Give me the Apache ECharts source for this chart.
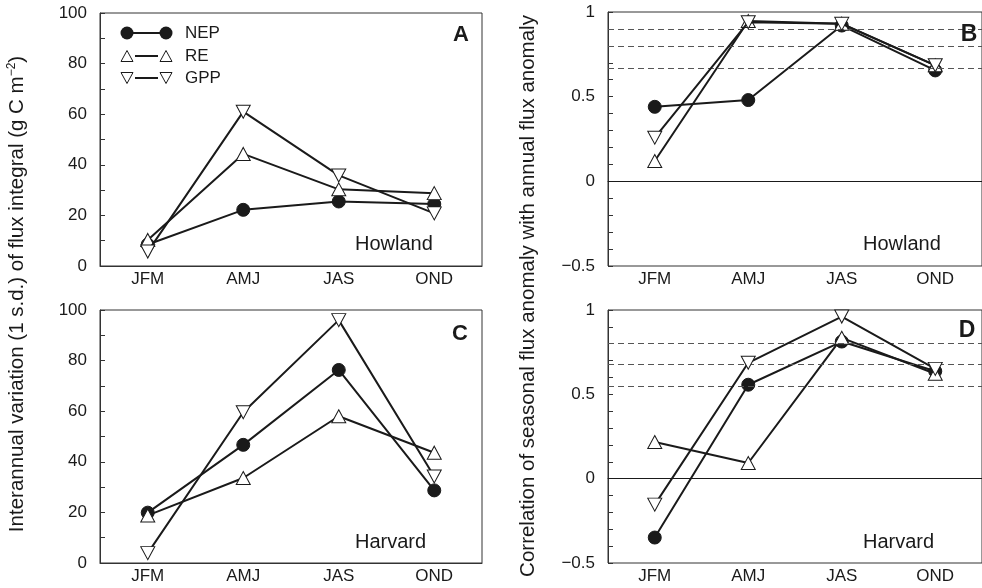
<!DOCTYPE html>
<html>
<head>
<meta charset="utf-8">
<script src="https://cdn.jsdelivr.net/npm/echarts@6/dist/echarts.min.js"></script>
<style>html,body{margin:0;padding:0;background:#fff;}#c{width:982px;height:588px;}</style>
</head>
<body>
<div id="c"></div>
<script>
const categories = ['JFM', 'AMJ', 'JAS', 'OND'];
const howlandSD_NEP = [8.5, 22.2, 25.5, 24.5];
const howlandSD_RE = [10.3, 44.3, 30.3, 28.8];
const howlandSD_GPP = [5.7, 61.0, 35.8, 20.8];
const howlandCorr_NEP = [0.44, 0.48, 0.92, 0.655];
const howlandCorr_RE = [0.12, 0.947, 0.931, 0.685];
const howlandCorr_GPP = [0.258, 0.94, 0.93, 0.685];
const harvardSD_NEP = [19.9, 46.7, 76.3, 28.7];
const harvardSD_RE = [18.8, 33.6, 58.0, 43.6];
const harvardSD_GPP = [3.9, 59.6, 96.0, 34.2];
const harvardCorr_NEP = [-0.349, 0.557, 0.813, 0.637];
const harvardCorr_RE = [0.217, 0.093, 0.835, 0.622];
const harvardCorr_GPP = [-0.154, 0.687, 0.961, 0.651];
const howlandSig = [0.9, 0.8, 0.67];
const harvardSig = [0.8, 0.68, 0.55];
const seriesNames = ['NEP', 'RE', 'GPP'];
const panelLetters = ['A', 'B', 'C', 'D'];
const siteNames = ['Howland', 'Howland', 'Harvard', 'Harvard'];

const FONT = "'Liberation Sans', Arial, Helvetica, sans-serif";
const INK = '#1a1a1a';
const AX = '#333';

const chart = echarts.init(document.getElementById('c'), null, {renderer: 'canvas'});

const grids = [
  {left: 100, top: 13, width: 382, height: 253},
  {left: 608, top: 12, width: 382, height: 254},
  {left: 100, top: 310, width: 382, height: 253},
  {left: 608, top: 310, width: 382, height: 253}
].map(g => Object.assign(g, {show: true, borderColor: AX, borderWidth: 1, backgroundColor: 'transparent'}));

const xAxes = grids.map((g, i) => ({
  type: 'category', gridIndex: i, data: categories, boundaryGap: true,
  axisLine: {lineStyle: {color: AX, width: 1}},
  axisTick: {alignWithLabel: true, length: 5, lineStyle: {color: AX}},
  axisLabel: {color: INK, fontSize: 17, fontFamily: FONT, margin: 5},
  splitLine: {show: false}
}));

function sdLabel(v) { return (Math.abs(v % 20) < 1e-6) ? String(v) : ''; }
function corrLabel(v) {
  const r = Math.round(v * 2);
  if (Math.abs(v * 2 - r) > 1e-6) return '';
  const val = r / 2;
  if (val < 0) return '\u2212' + String(-val);
  return String(val);
}

const yAxes = grids.map((g, i) => {
  const isSD = (i % 2 === 0);
  return {
    type: 'value', gridIndex: i,
    min: isSD ? 0 : -0.5, max: isSD ? 100 : 1, interval: isSD ? 10 : 0.1,
    axisLine: {show: true, lineStyle: {color: AX, width: 1}},
    axisTick: {show: true, inside: true, length: 5, lineStyle: {color: AX}},
    axisLabel: {color: INK, fontSize: 17, fontFamily: FONT, margin: 13,
      formatter: isSD ? sdLabel : corrLabel},
    splitLine: {show: false}
  };
});

const panelData = [
  [howlandSD_NEP, howlandSD_RE, howlandSD_GPP],
  [howlandCorr_NEP, howlandCorr_RE, howlandCorr_GPP],
  [harvardSD_NEP, harvardSD_RE, harvardSD_GPP],
  [harvardCorr_NEP, harvardCorr_RE, harvardCorr_GPP]
];
const sigLines = [null, howlandSig, null, harvardSig];

const series = [];
panelData.forEach((arrs, p) => {
  arrs.forEach((arr, k) => {
    const s = {
      name: seriesNames[k], type: 'line', xAxisIndex: p, yAxisIndex: p,
      data: arr, lineStyle: {color: INK, width: 2}, z: 3 + k,
      animation: false, silent: true
    };
    if (k === 0) {
      s.symbol = 'circle'; s.symbolSize = 13;
      s.itemStyle = {color: INK, borderColor: INK, borderWidth: 1};
    } else {
      s.symbol = 'triangle'; s.symbolSize = [14, 13];
      if (k === 2) s.symbolRotate = 180;
      s.itemStyle = {color: '#fff', borderColor: INK, borderWidth: 1};
    }
    if (k === 0 && sigLines[p]) {
      s.markLine = {
        silent: true, symbol: ['none', 'none'], label: {show: false}, animation: false,
        data: [{yAxis: 0, lineStyle: {type: 'solid', color: INK, width: 1}}]
          .concat(sigLines[p].map(v => ({yAxis: v, lineStyle: {type: [6, 4], color: '#555', width: 1}})))
      };
    }
    series.push(s);
  });
});

const graphic = [];
// legend (panel A)
const legRows = [33, 56, 78];
legRows.forEach((y, k) => {
  if (k === 0) {
    graphic.push({type: 'line', shape: {x1: 127, y1: y, x2: 166, y2: y}, style: {stroke: INK, lineWidth: 2}, z: 10});
  } else {
    graphic.push({type: 'line', shape: {x1: 135, y1: y, x2: 158, y2: y}, style: {stroke: INK, lineWidth: 2}, z: 10});
  }
  [127, 166].forEach(x => {
    if (k === 0) {
      graphic.push({type: 'circle', shape: {cx: x, cy: y, r: 6.5}, style: {fill: INK}, z: 11});
    } else {
      const up = (k === 1);
      const h = 11, w = 12;
      const pts = up ? [[x, y - h / 2], [x + w / 2, y + h / 2], [x - w / 2, y + h / 2]]
                     : [[x, y + h / 2], [x + w / 2, y - h / 2], [x - w / 2, y - h / 2]];
      graphic.push({type: 'polygon', shape: {points: pts}, style: {fill: '#fff', stroke: INK, lineWidth: 1}, z: 11});
    }
  });
  graphic.push({type: 'text', x: 185, y: y, style: {text: seriesNames[k], fill: INK, font: '17px ' + FONT, textAlign: 'left', textVerticalAlign: 'middle'}, z: 11});
});
// panel letters
const letterPos = [[461, 35, 22], [969, 35, 23], [460, 334, 22], [967, 331, 23]];
letterPos.forEach((p, i) => {
  graphic.push({type: 'text', x: p[0], y: p[1], style: {text: panelLetters[i], fill: INK, font: 'bold ' + p[2] + 'px ' + FONT, textAlign: 'center', textVerticalAlign: 'middle'}, z: 11});
});
// site names
const sitePos = [[355, 244], [863, 244], [355, 542], [863, 542]];
sitePos.forEach((p, i) => {
  graphic.push({type: 'text', x: p[0], y: p[1], style: {text: siteNames[i], fill: INK, font: '20px ' + FONT, textAlign: 'left', textVerticalAlign: 'middle'}, z: 11});
});
// axis titles
graphic.push({
  type: 'text', x: 17, y: 294, rotation: Math.PI / 2,
  style: {
    text: '{a|Interannual variation (1 s.d.) of flux integral (g C m}{s|\u22122}{a|)}',
    rich: {
      a: {fontSize: 20.5, fontFamily: FONT, fill: INK, color: INK},
      s: {fontSize: 12, fontFamily: FONT, fill: INK, color: INK, verticalAlign: 'top', padding: [0, 0, 10, 0]}
    },
    textAlign: 'center', textVerticalAlign: 'middle'
  }, z: 11
});
graphic.push({
  type: 'text', x: 528, y: 296, rotation: Math.PI / 2,
  style: {text: 'Correlation of seasonal flux anomaly with annual flux anomaly', fill: INK, font: '20.5px ' + FONT, textAlign: 'center', textVerticalAlign: 'middle'}, z: 11
});

chart.setOption({
  animation: false,
  backgroundColor: '#fff',
  grid: grids,
  xAxis: xAxes,
  yAxis: yAxes,
  series: series,
  graphic: graphic
});
</script>
</body>
</html>
